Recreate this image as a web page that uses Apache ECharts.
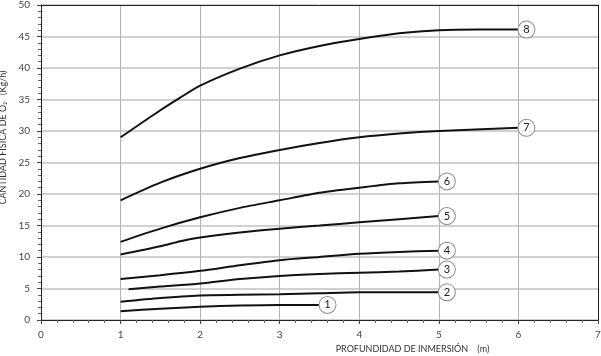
<!DOCTYPE html>
<html>
<head>
<meta charset="utf-8">
<script src="https://cdn.jsdelivr.net/npm/echarts@6/dist/echarts.min.js"></script>
<style>
html,body{margin:0;padding:0;background:#fff;}
#c{width:601px;height:356px;}
</style>
</head>
<body>
<div id="c"></div>
<script>
// Curve data: depth (m) and physical O2 quantity (Kg/h)
const depth1 = [1, 1.5, 2, 2.5, 3, 3.5];
const o2_1   = [1.4, 1.8, 2.1, 2.3, 2.4, 2.4];

const depth2 = [1, 1.5, 2, 2.5, 3, 3.5, 4, 4.5, 5];
const o2_2   = [2.9, 3.5, 3.9, 4.0, 4.1, 4.25, 4.4, 4.4, 4.4];

const depth3 = [1.1, 1.5, 2, 2.5, 3, 3.5, 4, 4.5, 5];
const o2_3   = [4.9, 5.3, 5.8, 6.5, 7.0, 7.3, 7.5, 7.7, 8.0];

const depth4 = [1, 1.5, 2, 2.5, 3, 3.5, 4, 4.5, 5];
const o2_4   = [6.5, 7.1, 7.8, 8.7, 9.5, 10.0, 10.5, 10.8, 11.0];

const depth5 = [1, 1.5, 1.75, 2, 2.5, 3, 3.5, 4, 4.5, 5];
const o2_5   = [10.4, 11.7, 12.5, 13.1, 13.9, 14.5, 15.0, 15.5, 16.0, 16.5];

const depth6 = [1, 1.5, 2, 2.5, 3, 3.5, 4, 4.5, 5];
const o2_6   = [12.4, 14.5, 16.3, 17.8, 19.0, 20.2, 21.0, 21.7, 22.0];

const depth7 = [1, 1.5, 2, 2.5, 3, 3.5, 4, 4.5, 5, 6];
const o2_7   = [19.0, 21.8, 24.0, 25.7, 27.0, 28.1, 29.0, 29.6, 30.0, 30.5];

const depth8 = [1, 1.5, 1.75, 2, 2.5, 3, 3.5, 4, 4.5, 5, 5.5, 6];
const o2_8   = [29.0, 33.3, 35.3, 37.2, 39.9, 42.0, 43.5, 44.6, 45.5, 46.0, 46.1, 46.1];

const curveNames = ['1', '2', '3', '4', '5', '6', '7', '8'];
const curveDepths = [depth1, depth2, depth3, depth4, depth5, depth6, depth7, depth8];
const curveValues = [o2_1, o2_2, o2_3, o2_4, o2_5, o2_6, o2_7, o2_8];

const xTitle = 'PROFUNDIDAD DE INMERSIÓN    (m)';
const yTitle = 'CANTIDAD FÍSICA DE O\u2082   (Kg/h)';

const FONT = 'Lato';

const series = curveNames.map((name, i) => ({
  name: name,
  type: 'line',
  smooth: 0.25,
  showSymbol: false,
  symbol: 'none',
  z: 5,
  lineStyle: { color: '#111', width: 2 },
  data: curveDepths[i].map((d, j) => [d, curveValues[i][j]]),
  endLabel: {
    show: true,
    distance: 0,
    formatter: p => '{c|' + p.seriesName + '}',
    rich: {
      c: {
        width: 16, height: 16, lineHeight: 16,
        align: 'center', verticalAlign: 'middle',
        borderRadius: 8, borderColor: '#8a8a8a', borderWidth: 1,
        backgroundColor: '#fff', color: '#222',
        fontSize: 11, fontFamily: FONT
      }
    }
  }
}));

const chart = echarts.init(document.getElementById('c'), null, { renderer: 'canvas' });
chart.setOption({
  animation: false,
  backgroundColor: '#fff',
  grid: {
    left: 41, right: 3, top: 5, bottom: 36,
    containLabel: false,
    outerBoundsMode: 'none',
    show: false
  },
  xAxis: [{
    type: 'value', min: 0, max: 7, interval: 1,
    name: xTitle, nameLocation: 'middle', nameGap: 24,
    nameTextStyle: { color: '#333', fontSize: 9, fontFamily: FONT, padding: [0, 0, 0, 186] },
    axisLine: { show: true, lineStyle: { color: '#222', width: 1 } },
    axisTick: { show: true, length: 4, lineStyle: { color: '#444' } },
    minorTick: { show: true, splitNumber: 5, length: 3, lineStyle: { color: '#666' } },
    splitLine: { show: true, lineStyle: { color: '#b4b4b4', width: 1 } },
    axisLabel: { color: '#444', fontSize: 10, fontFamily: FONT, margin: 10 }
  }, {
    type: 'value', min: 0, max: 7, interval: 1, position: 'top',
    axisLine: { show: true, onZero: false, lineStyle: { color: '#222', width: 1 } },
    axisTick: { show: false }, axisLabel: { show: false }, splitLine: { show: false }
  }],
  yAxis: [{
    type: 'value', min: 0, max: 50, interval: 5,
    name: yTitle, nameLocation: 'middle', nameGap: 28, nameRotate: 90,
    nameTextStyle: { color: '#333', fontSize: 9, fontFamily: FONT, padding: [0, 0, 0, 50] },
    axisLine: { show: true, lineStyle: { color: '#222', width: 1 } },
    axisTick: { show: true, length: 4, lineStyle: { color: '#444' } },
    minorTick: { show: true, splitNumber: 5, length: 3, lineStyle: { color: '#666' } },
    splitLine: { show: true, lineStyle: { color: '#c0c0c0', width: 1.5 } },
    axisLabel: { color: '#444', fontSize: 10, fontFamily: FONT, margin: 11 }
  }, {
    type: 'value', min: 0, max: 50, interval: 5, position: 'right',
    axisLine: { show: true, onZero: false, lineStyle: { color: '#222', width: 1 } },
    axisTick: { show: false }, axisLabel: { show: false }, splitLine: { show: false }
  }],
  series: series
});
</script>
</body>
</html>
